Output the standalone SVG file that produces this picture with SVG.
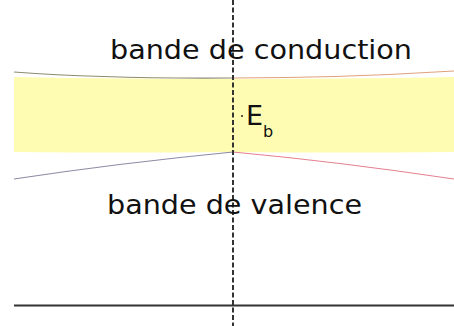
<svg xmlns="http://www.w3.org/2000/svg" width="454" height="326" viewBox="0 0 454 326">
<style>
.lbl{font-family:"DejaVu Sans",sans-serif;font-size:27px;fill:#111}
.edge{fill:none;stroke-width:1.2}
</style>
<rect width="454" height="326" fill="#fff"/>
<g id="gap">
<path d="M14,77 Q120,79 233,79 Q340,79 454,77 L454,152 Q340,153 233,152 Q120,153 14,152 Z" fill="#fefcb2"/>
</g>
<g id="band-edges">
<path class="edge" d="M14,72 Q110,79 233,78" stroke="#8d8c70"/>
<path class="edge" d="M233,78 Q340,78 454,71" stroke="#e0a07a"/>
<path class="edge" d="M14,179 Q120,163 233,152" stroke="#8c8aa2"/>
<path class="edge" d="M233,152 Q340,162 454,179" stroke="#e48090"/>
</g>
<g id="axes">
<line x1="14" y1="305.5" x2="454" y2="305.5" stroke="#333" stroke-width="2"/>
<line x1="233" y1="0" x2="233" y2="326" stroke="#333" stroke-width="2" stroke-dasharray="5,2.5"/>
</g>
<g id="conduction">
<text class="lbl" x="110" y="59" textLength="302" lengthAdjust="spacingAndGlyphs">bande de conduction</text>
</g>
<g id="valence">
<text class="lbl" x="107" y="214" textLength="255" lengthAdjust="spacingAndGlyphs">bande de valence</text>
</g>
<g id="Eb">
<circle cx="242" cy="116" r="1" fill="#222"/>
<text class="lbl" x="246" y="125" font-size="26">E<tspan font-size="16" dy="12">b</tspan></text>
</g>
</svg>
